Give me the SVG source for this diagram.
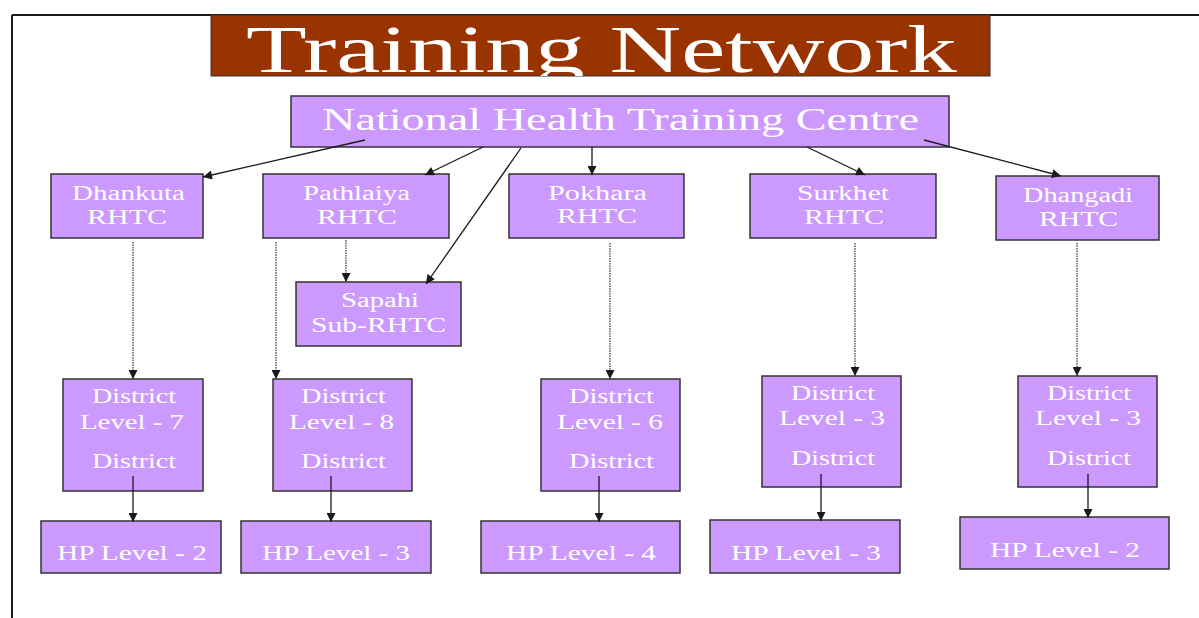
<svg xmlns="http://www.w3.org/2000/svg" width="1199" height="618" viewBox="0 0 1199 618">
<style>
.box{fill:#cc99ff;stroke:#333333;stroke-width:1.5}
.t{fill:#ffffff;font-family:"Liberation Serif","Times New Roman",serif;font-size:20px}
.solid{stroke:#1a1a1a;stroke-width:1.3;fill:none}
.dot{stroke:#333333;stroke-width:1.2;stroke-dasharray:1.5 1;fill:none}
</style>
<defs>
<marker id="ah" viewBox="0 0 10 10" refX="10" refY="5" markerWidth="10" markerHeight="9" markerUnits="userSpaceOnUse" orient="auto">
<path d="M0,0 L10,5 L0,10 z" fill="#1a1a1a"/>
</marker>
<clipPath id="titleClip"><rect x="211" y="15" width="779" height="61"/></clipPath>
</defs>
<rect x="0" y="0" width="1199" height="618" fill="#ffffff"/>
<g id="frame">
<line x1="12" y1="15" x2="1199" y2="15" stroke="#1a1a1a" stroke-width="2"/>
<line x1="12" y1="15" x2="12" y2="618" stroke="#1a1a1a" stroke-width="2"/>
</g>
<g id="title">
<rect x="211" y="15" width="779" height="61" fill="#993300" stroke="#333333" stroke-width="1"/>
<text x="246" y="72" clip-path="url(#titleClip)" textLength="711" lengthAdjust="spacingAndGlyphs" style="fill:#ffffff;font-family:'Liberation Serif','Times New Roman',serif;font-size:68px">Training Network</text>
</g>
<g id="nhtc">
<rect class="box" x="291" y="96" width="658" height="51"/>
<text class="t" x="322" y="130" textLength="597" lengthAdjust="spacingAndGlyphs" style="font-size:32px">National Health Training Centre</text>
</g>
<g id="dhankuta">
<rect class="box" x="51" y="174" width="152" height="64"/>
<text class="t" x="72" y="200" textLength="113" lengthAdjust="spacingAndGlyphs">Dhankuta</text>
<text class="t" x="87" y="224" textLength="80" lengthAdjust="spacingAndGlyphs">RHTC</text>
</g>
<g id="pathlaiya">
<rect class="box" x="263" y="174" width="186" height="64"/>
<text class="t" x="303" y="200" textLength="107" lengthAdjust="spacingAndGlyphs">Pathlaiya</text>
<text class="t" x="317" y="224" textLength="80" lengthAdjust="spacingAndGlyphs">RHTC</text>
</g>
<g id="pokhara">
<rect class="box" x="509" y="174" width="175" height="64"/>
<text class="t" x="548" y="200" textLength="99" lengthAdjust="spacingAndGlyphs">Pokhara</text>
<text class="t" x="557" y="223" textLength="80" lengthAdjust="spacingAndGlyphs">RHTC</text>
</g>
<g id="surkhet">
<rect class="box" x="750" y="174" width="186" height="64"/>
<text class="t" x="797" y="200" textLength="92" lengthAdjust="spacingAndGlyphs">Surkhet</text>
<text class="t" x="804" y="224" textLength="80" lengthAdjust="spacingAndGlyphs">RHTC</text>
</g>
<g id="dhangadi">
<rect class="box" x="996" y="176" width="163" height="64"/>
<text class="t" x="1023" y="202" textLength="110" lengthAdjust="spacingAndGlyphs">Dhangadi</text>
<text class="t" x="1039" y="226" textLength="79" lengthAdjust="spacingAndGlyphs">RHTC</text>
</g>
<g id="sapahi">
<rect class="box" x="296" y="282" width="165" height="64"/>
<text class="t" x="341" y="307" textLength="78" lengthAdjust="spacingAndGlyphs">Sapahi</text>
<text class="t" x="311" y="332" textLength="135" lengthAdjust="spacingAndGlyphs">Sub-RHTC</text>
</g>
<g id="district1">
<rect class="box" x="63" y="379" width="140" height="112"/>
<text class="t" x="92" y="403" textLength="84" lengthAdjust="spacingAndGlyphs">District</text>
<text class="t" x="80" y="429" textLength="104" lengthAdjust="spacingAndGlyphs">Level - 7</text>
<text class="t" x="92" y="468" textLength="84" lengthAdjust="spacingAndGlyphs">District</text>
</g>
<g id="district2">
<rect class="box" x="273" y="379" width="139" height="112"/>
<text class="t" x="301" y="403" textLength="85" lengthAdjust="spacingAndGlyphs">District</text>
<text class="t" x="289" y="429" textLength="105" lengthAdjust="spacingAndGlyphs">Level - 8</text>
<text class="t" x="301" y="468" textLength="85" lengthAdjust="spacingAndGlyphs">District</text>
</g>
<g id="district3">
<rect class="box" x="541" y="379" width="139" height="112"/>
<text class="t" x="569" y="403" textLength="85" lengthAdjust="spacingAndGlyphs">District</text>
<text class="t" x="557" y="429" textLength="106" lengthAdjust="spacingAndGlyphs">Level - 6</text>
<text class="t" x="569" y="468" textLength="85" lengthAdjust="spacingAndGlyphs">District</text>
</g>
<g id="district4">
<rect class="box" x="762" y="376" width="139" height="111"/>
<text class="t" x="791" y="400" textLength="84" lengthAdjust="spacingAndGlyphs">District</text>
<text class="t" x="779" y="425" textLength="106" lengthAdjust="spacingAndGlyphs">Level - 3</text>
<text class="t" x="791" y="465" textLength="84" lengthAdjust="spacingAndGlyphs">District</text>
</g>
<g id="district5">
<rect class="box" x="1018" y="376" width="139" height="111"/>
<text class="t" x="1047" y="400" textLength="84" lengthAdjust="spacingAndGlyphs">District</text>
<text class="t" x="1035" y="425" textLength="106" lengthAdjust="spacingAndGlyphs">Level - 3</text>
<text class="t" x="1047" y="465" textLength="84" lengthAdjust="spacingAndGlyphs">District</text>
</g>
<g id="hp1">
<rect class="box" x="41" y="521" width="180" height="52"/>
<text class="t" x="57" y="560" textLength="150" lengthAdjust="spacingAndGlyphs">HP Level - 2</text>
</g>
<g id="hp2">
<rect class="box" x="241" y="521" width="190" height="52"/>
<text class="t" x="262" y="560" textLength="148" lengthAdjust="spacingAndGlyphs">HP Level - 3</text>
</g>
<g id="hp3">
<rect class="box" x="481" y="521" width="199" height="52"/>
<text class="t" x="506" y="560" textLength="150" lengthAdjust="spacingAndGlyphs">HP Level - 4</text>
</g>
<g id="hp4">
<rect class="box" x="710" y="520" width="190" height="53"/>
<text class="t" x="731" y="560" textLength="150" lengthAdjust="spacingAndGlyphs">HP Level - 3</text>
</g>
<g id="hp5">
<rect class="box" x="960" y="517" width="209" height="52"/>
<text class="t" x="990" y="557" textLength="150" lengthAdjust="spacingAndGlyphs">HP Level - 2</text>
</g>
<g id="connectors">
<line class="solid" x1="365" y1="140" x2="203" y2="177" marker-end="url(#ah)"/>
<line class="solid" x1="483" y1="147" x2="425" y2="175" marker-end="url(#ah)"/>
<line class="solid" x1="521" y1="148" x2="426" y2="284" marker-end="url(#ah)"/>
<line class="solid" x1="592" y1="147" x2="592" y2="175" marker-end="url(#ah)"/>
<line class="solid" x1="807" y1="147" x2="865" y2="175" marker-end="url(#ah)"/>
<line class="solid" x1="924" y1="140" x2="1061" y2="176" marker-end="url(#ah)"/>
<line class="dot" x1="133" y1="242" x2="133" y2="379" marker-end="url(#ah)"/>
<line class="dot" x1="276" y1="242" x2="276" y2="379" marker-end="url(#ah)"/>
<line class="dot" x1="346" y1="240" x2="346" y2="282" marker-end="url(#ah)"/>
<line class="dot" x1="610" y1="243" x2="610" y2="379" marker-end="url(#ah)"/>
<line class="dot" x1="855" y1="243" x2="855" y2="376" marker-end="url(#ah)"/>
<line class="dot" x1="1077" y1="243" x2="1077" y2="376" marker-end="url(#ah)"/>
<line class="solid" x1="133" y1="476" x2="133" y2="522" marker-end="url(#ah)"/>
<line class="solid" x1="331" y1="476" x2="331" y2="522" marker-end="url(#ah)"/>
<line class="solid" x1="599" y1="476" x2="599" y2="522" marker-end="url(#ah)"/>
<line class="solid" x1="821" y1="474" x2="821" y2="521" marker-end="url(#ah)"/>
<line class="solid" x1="1088" y1="474" x2="1088" y2="518" marker-end="url(#ah)"/>
</g>
</svg>
